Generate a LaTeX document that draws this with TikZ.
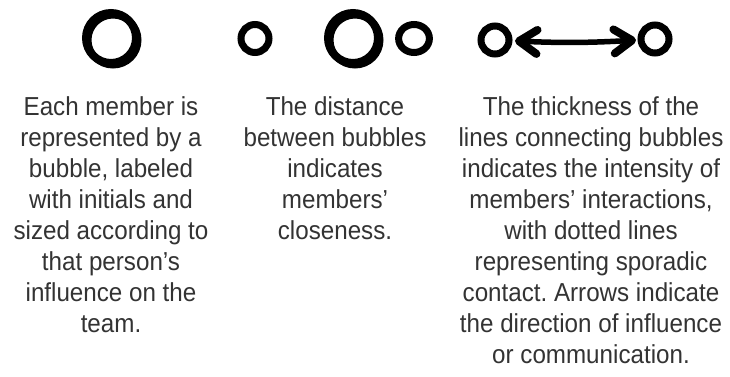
\documentclass[tikz,border=0pt]{standalone}
\usepackage{fontspec}
\newfontfamily\captionfont{Liberation Sans}[FakeStretch=0.93]
\usetikzlibrary{arrows.meta,calc}
\definecolor{txt}{HTML}{333333}
\frenchspacing
\begin{document}
\begin{tikzpicture}[x=1pt,y=-1pt,
  bub/.style={circle, draw=black, inner sep=0pt, outer sep=0pt},
  bigbub/.style={bub, line width=8pt, minimum size=50pt},
  smallbub/.style={bub, line width=7pt, minimum size=28pt},
  sketch/.style={draw=black, line width=#1},
  caption/.style={text=txt, align=center, anchor=north, inner sep=0pt,
    font={\captionfont\fontsize{26}{31}\selectfont}},
  linkarrow/.style={line width=5.5pt, line cap=round,
    {Straight Barb[length=18pt,width=24pt,line width=8pt,round]}-{Straight Barb[length=18pt,width=24pt,line width=8pt,round]},
    shorten <=6pt, shorten >=5pt}
]
\fill[white] (0,0) rectangle (730,377);
\useasboundingbox (0,0) rectangle (730,377);

% column 1
\node[bigbub] (b1) at (111,38) {};
\draw[sketch=7pt] ($(b1.center)+(2,2)$) circle (25);
\draw[sketch=2pt] ($(b1.center)+(-3.5,1)$) ++(115:21.5) arc (115:255:21.5);

% column 2
\node[smallbub] (s1) at (255,38.5) {};
\node[bigbub] (b2) at (353,38) {};
\draw[sketch=7pt] ($(b2.center)+(2,2)$) circle (25);
\draw[sketch=2pt] ($(b2.center)+(-3.5,1)$) ++(115:21.5) arc (115:255:21.5);
\node[smallbub, xscale=1.1] (s2) at (414,38.5) {};

% column 3
\node[smallbub] (s3) at (495,40) {};
\node[smallbub] (s4) at (655,39) {};
\draw[linkarrow] (s3) to[bend right=3] (s4);

% captions
\node[caption] (t1) at (111,96.5) {Each member is\\represented by a\\bubble, labeled\\with initials and\\sized according to\\that person’s\\influence on the\\team.};
\node[caption] (t2) at (335,96.5) {The distance\\between bubbles\\indicates\\members’\\closeness.};
\node[caption] (t3) at (591,96.5) {The thickness of the\\lines connecting bubbles\\indicates the intensity of\\members’ interactions,\\with dotted lines\\representing sporadic\\contact. Arrows indicate\\the direction of influence\\or communication.};
\end{tikzpicture}
\end{document}
